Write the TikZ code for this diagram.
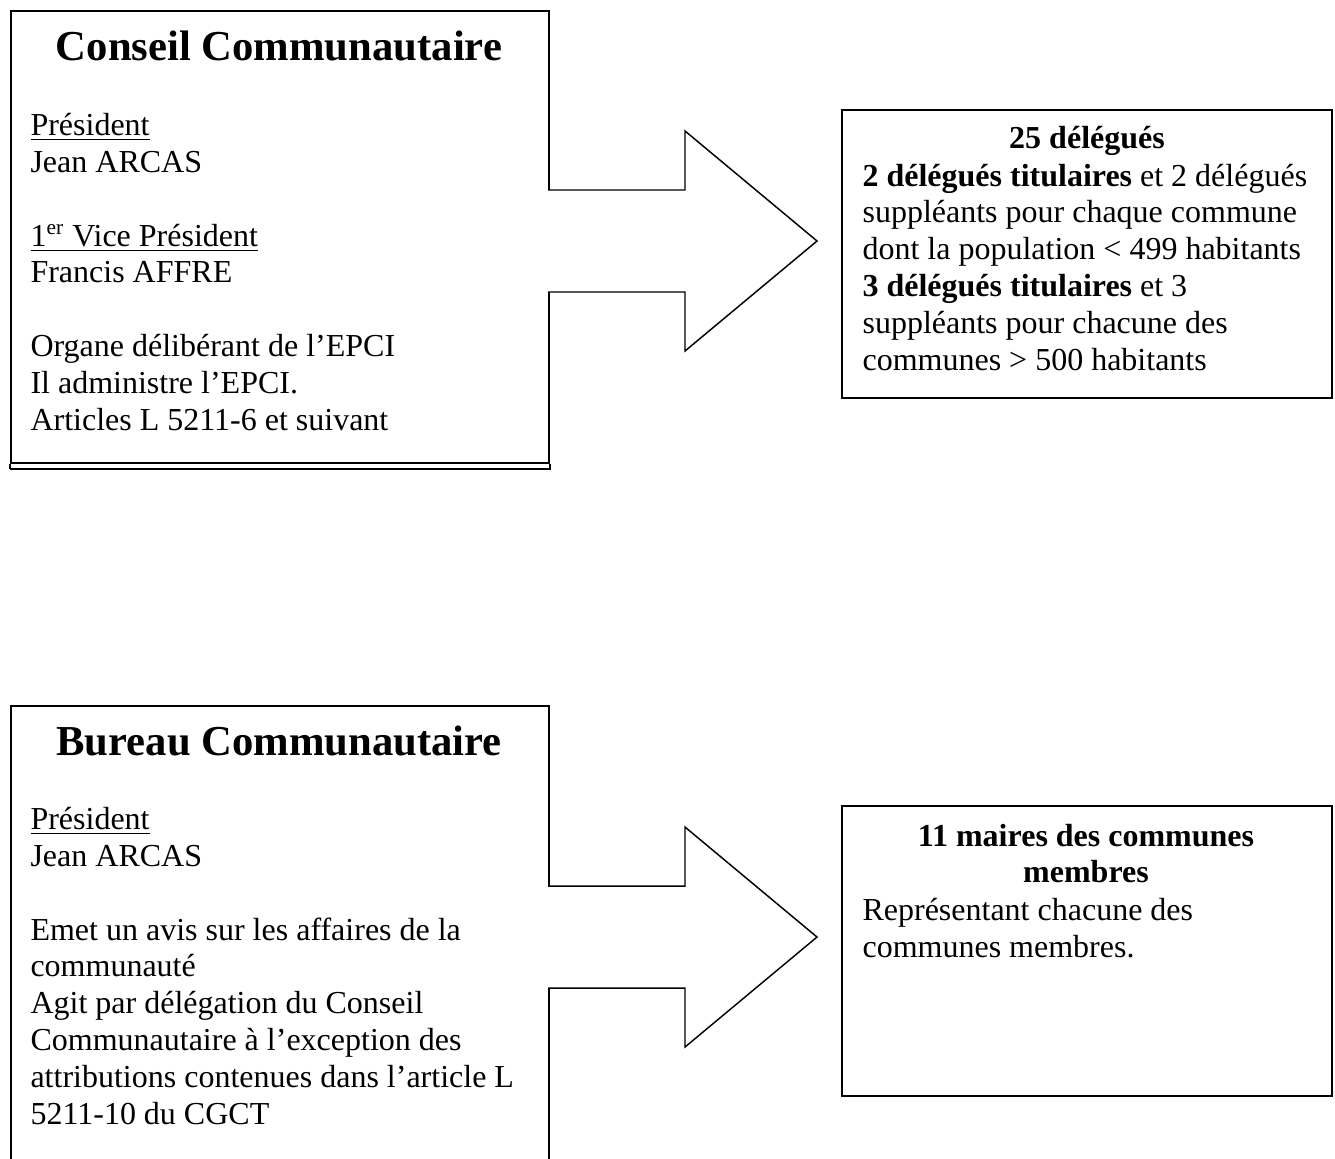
\documentclass[tikz,border=0pt]{standalone}
\usepackage{fontspec}
\setmainfont{Liberation Serif}
\usetikzlibrary{calc}
\begin{document}
\begin{tikzpicture}[x=0.375pt,y=-0.375pt,
  box/.style={draw, line width=0.7pt, rectangle, inner sep=0pt, anchor=north west},
  blockarrow/.style={draw, line width=0.55pt, line join=miter, fill=white},
  titletxt/.style={inner sep=0pt, anchor=base, font=\bfseries\fontsize{16}{19}\selectfont},
  headtxt/.style={inner sep=0pt, anchor=base, font=\bfseries\fontsize{12}{13.8}\selectfont},
  bodytxt/.style={inner sep=0pt, anchor=base west, align=left, font=\fontsize{12}{13.8}\selectfont}]
\useasboundingbox (0,0) rectangle (1335,1158);

% --- boxes ---
\node[box, minimum width=201.75pt, minimum height=169.5pt] (c1) at (10,10) {};
\draw[line width=0.7pt] ($(c1.south west)+(0,5)$) -- ($(c1.south east)+(1,5)$);
\draw[line width=0.7pt] (c1.south west) -- ++(0,5) (c1.south east) -- ++(0,5);
\node[box, minimum width=183.75pt, minimum height=108pt] (r1) at (841,109) {};
\node[box, minimum width=201.75pt, minimum height=200pt] (c2) at (10,705) {};
\node[box, minimum width=183.75pt, minimum height=108.75pt] (r2) at (841,805) {};

% --- block arrows ---
\coordinate (a1) at (548,241);
\coordinate (a2) at (548,937);
\draw[blockarrow] (a1) ++(0,-51) -- ++(137,0) -- ++(0,-59) -- ++(132,110) -- ++(-132,110) -- ++(0,-59) -- ++(-137,0);
\draw[blockarrow] (a2) ++(0,-51) -- ++(137,0) -- ++(0,-59) -- ++(132,110) -- ++(-132,110) -- ++(0,-59) -- ++(-137,0);

% --- texts top ---
\node[titletxt] (c1t) at (279,60) {Conseil Communautaire};
\node[bodytxt] (c1b) at (30,430) {\underline{Président}\\
Jean ARCAS\\[13.8pt]
\underline{1\textsuperscript{er} Vice Président}\\
Francis AFFRE\\[13.8pt]
Organe délibérant de l'EPCI\\
Il administre l'EPCI.\\
Articles L 5211-6 et suivant};

\node[headtxt] (r1t) at (1087,148) {25 délégués};
\node[bodytxt] (r1b) at (862,370) {\textbf{2 délégués titulaires} et 2 délégués\\
suppléants pour chaque commune\\
dont la population < 499 habitants\\
\textbf{3 délégués titulaires} et 3\\
suppléants pour chacune des\\
communes > 500 habitants};

% --- texts bottom ---
\node[titletxt] (c2t) at (279,755) {Bureau Communautaire};
\node[bodytxt] (c2b) at (30,1124) {\underline{Président}\\
Jean ARCAS\\[13.8pt]
Emet un avis sur les affaires de la\\
communauté\\
Agit par délégation du Conseil\\
Communautaire à l'exception des\\
attributions contenues dans l'article L\\
5211-10 du CGCT};

\node[headtxt] (r2t1) at (1086,846) {11 maires des communes};
\node[headtxt] (r2t2) at (1086,882) {membres};
\node[bodytxt] (r2b) at (862,957) {Représentant chacune des\\
communes membres.};
\end{tikzpicture}
\end{document}
